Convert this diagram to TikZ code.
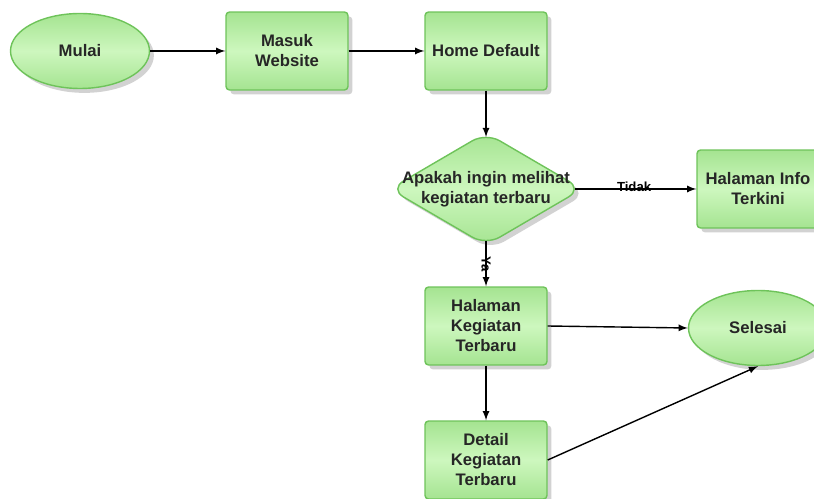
\documentclass[tikz,border=0pt]{standalone}
\usepackage{fontspec}
\setmainfont{Liberation Sans}
\usetikzlibrary{shapes.geometric,shadows}
\definecolor{boxlight}{RGB}{205,247,190}
\definecolor{boxdark}{RGB}{165,228,145}
\definecolor{boxline}{RGB}{110,195,90}
\begin{document}
\begin{tikzpicture}[x=0.02cm,y=-0.02cm,>=latex,
  shade base/.style={draw=boxline,thick,top color=boxdark,bottom color=boxdark,middle color=boxlight,
    drop shadow={shadow xshift=2.5pt,shadow yshift=-2.5pt,fill=black!35},
    font=\fontsize{9.5}{11.4}\selectfont\bfseries,text=black!85,align=center},
  stepbox/.style={shade base,rectangle,rounded corners=2pt,minimum width=2.44cm,minimum height=1.56cm,inner sep=1pt},
  endpoint/.style={shade base,ellipse,minimum width=2.78cm,minimum height=1.5cm,inner sep=0pt},
  decision/.style={shade base,diamond,rounded corners=9pt,minimum width=3.86cm,minimum height=2.26cm,inner sep=0pt},
  flow/.style={thick,->},
  edgelabel/.style={font=\fontsize{7.5}{8}\selectfont\bfseries}]
\useasboundingbox (0,0) rectangle (814,499);
\clip (0,0) rectangle (814,499);
\node[endpoint] (mulai) at (80,51) {Mulai};
\node[stepbox] (masuk) at (287,51) {Masuk\\Website};
\node[stepbox] (home) at (486,51) {Home Default};
\node[decision] (tanya) at (486,189) {};
\node[font=\fontsize{9.5}{11.4}\selectfont\bfseries,text=black!85,align=center] (tanyatext) at (486,189) {Apakah ingin melihat\\kegiatan terbaru};
\node[stepbox] (info) at (758,189) {Halaman Info\\Terkini};
\node[stepbox] (kegiatan) at (486,326) {Halaman\\Kegiatan\\Terbaru};
\node[endpoint] (selesai) at (758,328) {Selesai};
\node[stepbox] (detail) at (486,460) {Detail\\Kegiatan\\Terbaru};
\draw[flow] (mulai) -- (masuk);
\draw[flow] (masuk) -- (home);
\draw[flow,shorten >=-3pt] (home) -- (tanya);
\draw[flow,shorten <=-4.5pt] (tanya) -- node[edgelabel,yshift=1pt,pos=0.45] {Tidak} (info);
\draw[flow,shorten <=-3pt] (tanya) -- node[edgelabel,rotate=-90,pos=0.45] {Ya} (kegiatan);
\draw[flow] (kegiatan.east) -- (selesai.west);
\draw[flow] (kegiatan) -- (detail);
\draw[flow] (detail.east) -- (selesai.south);
\end{tikzpicture}
\end{document}
